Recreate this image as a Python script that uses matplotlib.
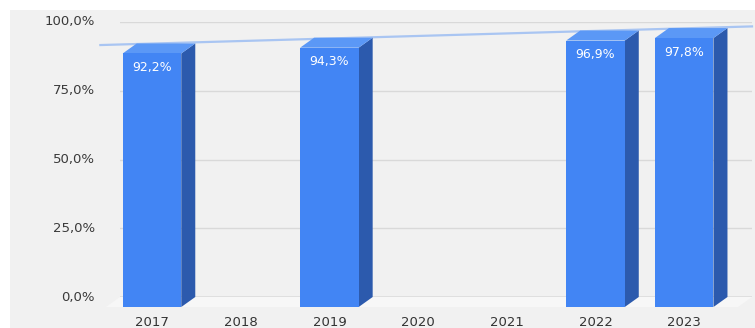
import matplotlib.pyplot as plt
import matplotlib.transforms as mtransforms
from matplotlib.patches import Polygon, Rectangle
import numpy as np

anos = ['2017', '2018', '2019', '2020', '2021', '2022', '2023']
valores = [92.2, None, 94.3, None, None, 96.9, 97.8]
rotulos = ['92,2%', '', '94,3%', '', '', '96,9%', '97,8%']
yticks = [0, 25, 50, 75, 100]
ytick_labels = ['0,0%', '25,0%', '50,0%', '75,0%', '100,0%']

W, H = 755, 328
fig = plt.figure(figsize=(W / 100, H / 100), dpi=100)
fig.patch.set_facecolor('white')

# fundo cinza do painel
fig.patches.append(Rectangle((10 / W, 0), 1, 1 - 10 / H, transform=fig.transFigure,
                             facecolor='#f1f1f1', edgecolor='none', zorder=-10))

# eixo = plano de fundo (parede traseira)
ax_left, ax_right = 120, 752
ax_top, ax_bot = 22, 297
ax = fig.add_axes([ax_left / W, (H - ax_bot) / H, (ax_right - ax_left) / W, (ax_bot - ax_top) / H])
ax.set_facecolor('none')
passo = 88.7
x0 = (ax_left - 166) / passo
x1 = (ax_right - 166) / passo
ax.set_xlim(x0, x1)
ax.set_ylim(0, 100)
for s in ax.spines.values():
    s.set_visible(False)
ax.set_xticks([])
ax.set_yticks([])

# deslocamento 3D em pixels
dxp, dyp = 14, 10
frente = ax.transData + mtransforms.ScaledTranslation(-dxp / 100, -dyp / 100, fig.dpi_scale_trans)
dx = dxp / passo
dy = dyp / ((ax_bot - ax_top) / 100)

# chão
ax.add_patch(Polygon([(x0, 0), (x1, 0), (x1 - dx, -dy), (x0 - dx, -dy)], closed=True,
                     facecolor='#f7f7f7', edgecolor='none', clip_on=False, zorder=0))

# linhas de grade
for t in yticks:
    ax.axhline(t, color='#9a9a9a' if t == 0 else '#d9d9d9', lw=1.0, zorder=1)
for t, lab in zip(yticks, ytick_labels):
    ax.text(-0.04, t, lab, transform=mtransforms.blended_transform_factory(ax.transAxes, ax.transData),
            ha='right', va='center', fontsize=9.5, color='#3a3a3a')

# linha de tendência
xs = np.array([i for i, v in enumerate(valores) if v is not None], dtype=float)
ys = np.array([v for v in valores if v is not None])
a, b = np.polyfit(xs, ys, 1)
xt = np.array([-0.74, x1])
ax.plot(xt, a * xt + b, color='#a9c5f2', lw=1.6, zorder=2, clip_on=False)

# barras 3D
larg = 0.66
frente_cor, lado_cor, topo_cor = '#4285f4', '#2c5aad', '#5b98f6'
for i, v in enumerate(valores):
    if v is None:
        continue
    xl, xr = i - larg / 2, i + larg / 2
    # lado
    ax.add_patch(Polygon([(xr - dx, -dy), (xr, 0), (xr, v), (xr - dx, v - dy)], closed=True,
                         facecolor=lado_cor, edgecolor='none', clip_on=False, zorder=3))
    # topo
    ax.add_patch(Polygon([(xl - dx, v - dy), (xl, v), (xr, v), (xr - dx, v - dy)], closed=True,
                         facecolor=topo_cor, edgecolor='none', clip_on=False, zorder=3))
    # frente
    ax.bar(i, v, width=larg, color=frente_cor, transform=frente, clip_on=False, zorder=4)
    ax.text(i, v - 5.2, rotulos[i], transform=frente, ha='center', va='center',
            fontsize=9, color='white', zorder=5)

for i, ano in enumerate(anos):
    ax.text(i, -3.4, ano, transform=frente, ha='center', va='top', fontsize=9.5, color='#333333')

fig.savefig('out.png', dpi=100)
